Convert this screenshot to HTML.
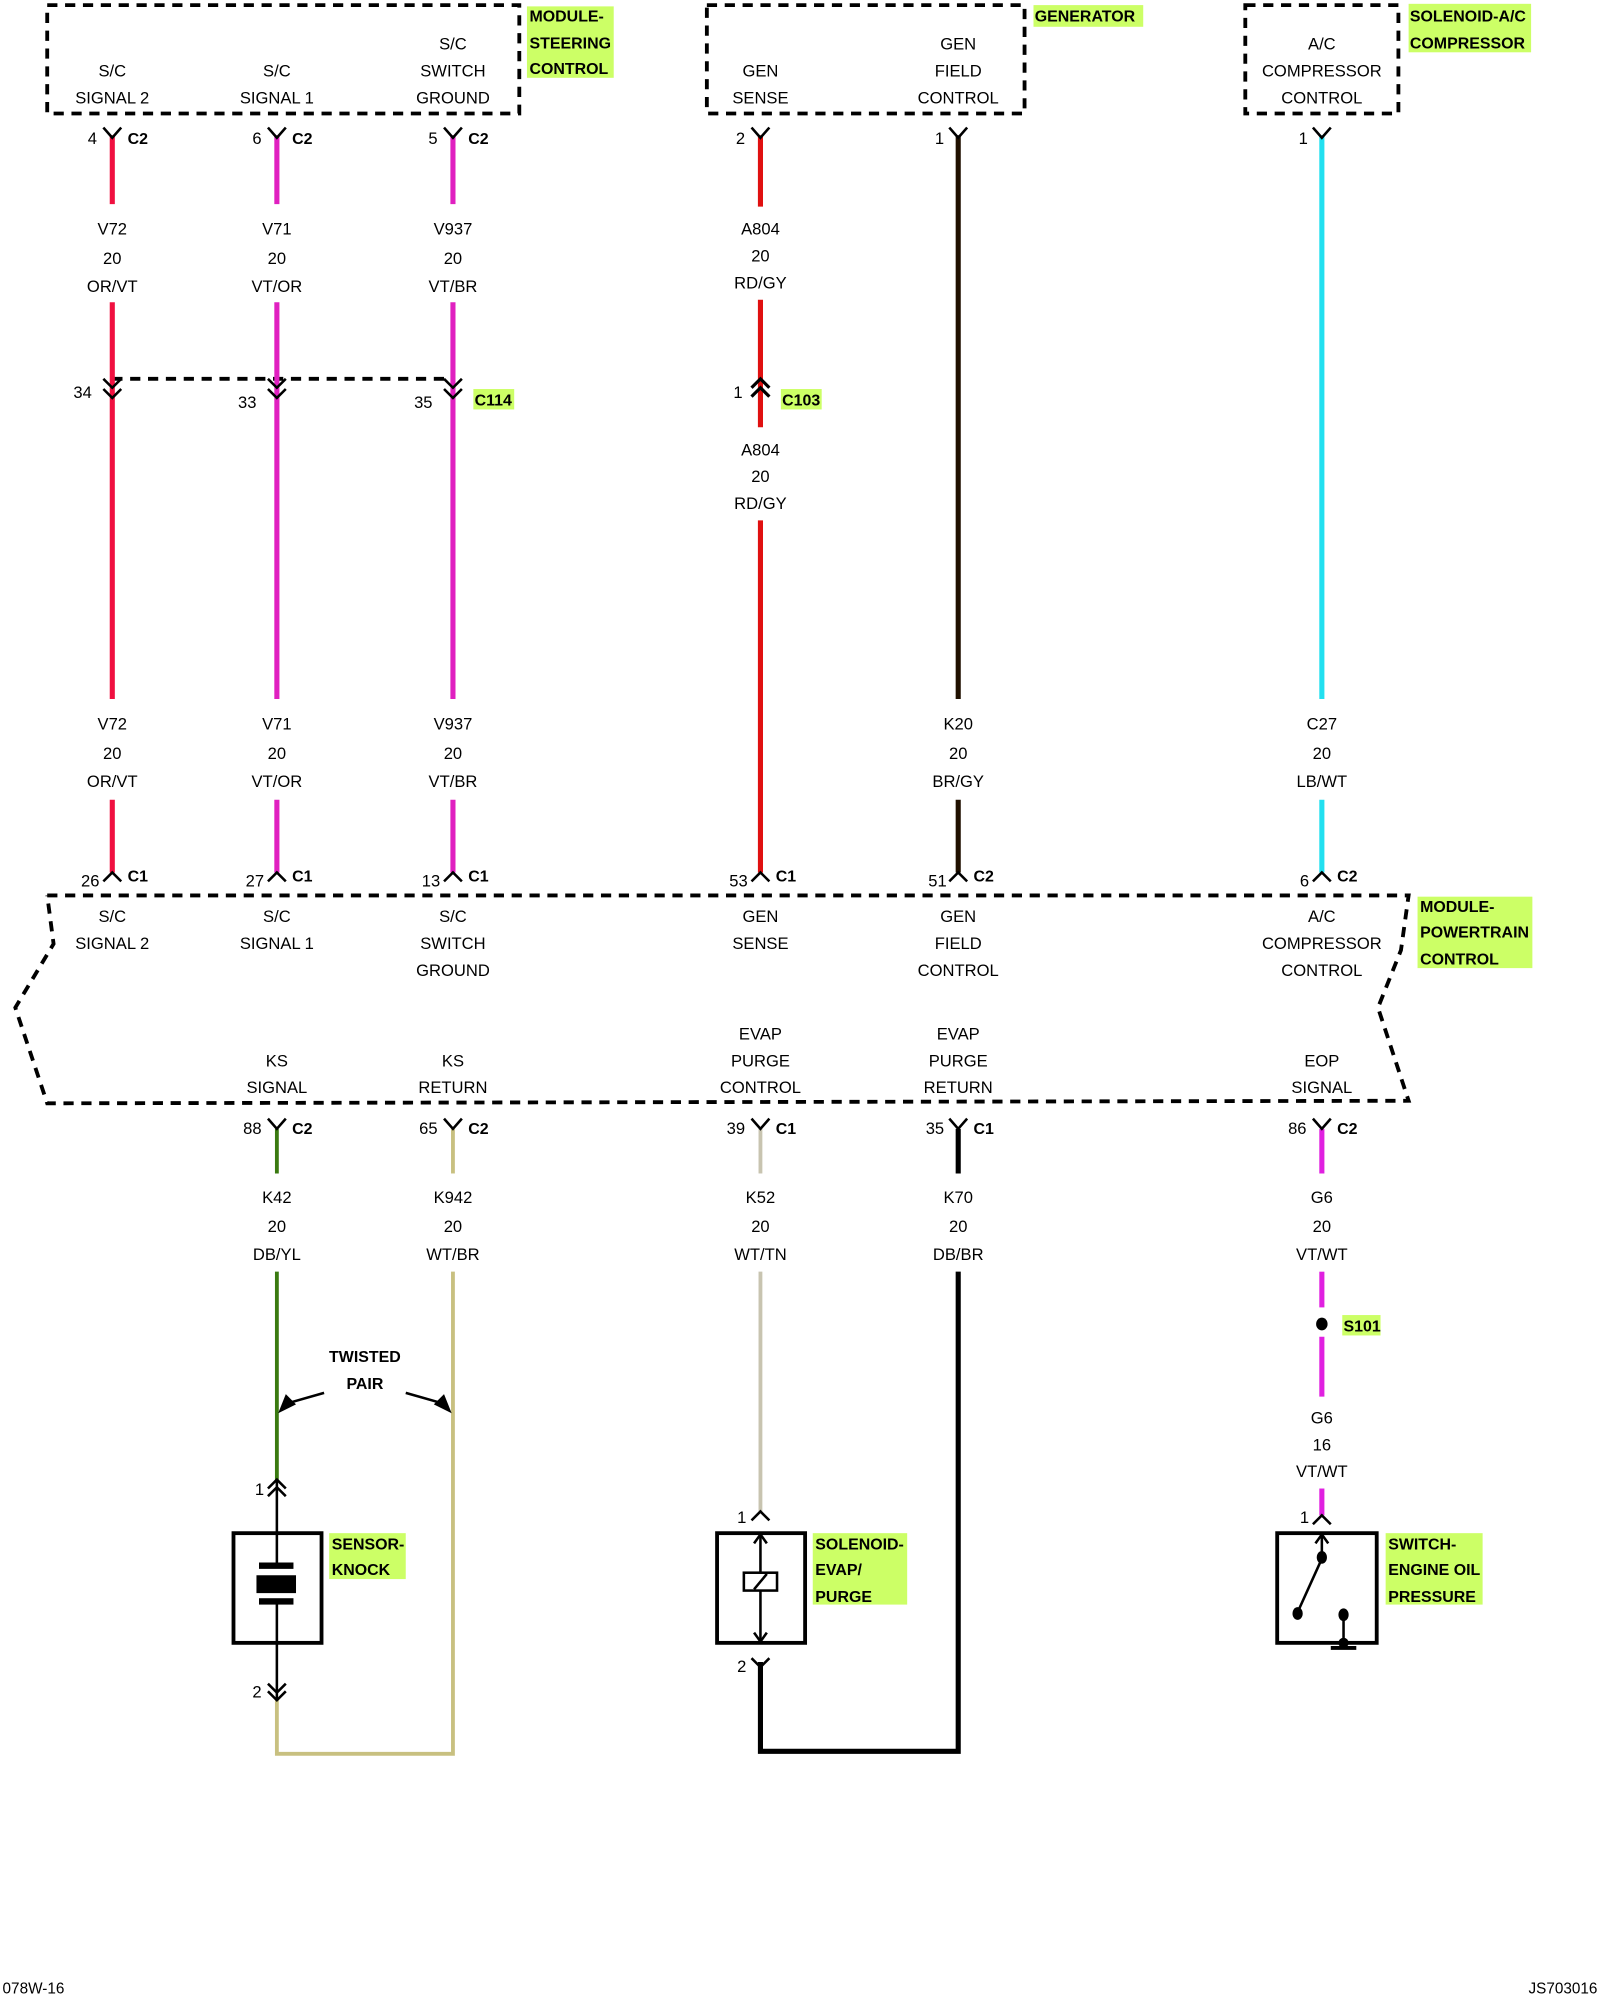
<!DOCTYPE html>
<html><head><meta charset="utf-8"><style>
html,body{margin:0;padding:0;background:#fff;}
svg{display:block;}
text{font-family:"Liberation Sans",Arial,sans-serif;font-size:13px;fill:#000;text-anchor:middle;}
.b{font-weight:bold;text-anchor:start;font-size:12.5px;}
.n{text-anchor:end;}
.hl{fill:#ccff66;}
</style></head><body>
<svg width="1600" height="2000" viewBox="0 0 1254 1568" preserveAspectRatio="none" xmlns="http://www.w3.org/2000/svg">
<g fill="none" stroke="#000" stroke-width="3" stroke-dasharray="8,6">
<rect x="37" y="4" width="370" height="85"/>
<rect x="554" y="4" width="249" height="85"/>
<rect x="976" y="4" width="120" height="85"/>
<polyline points="37,702 1104,702 1098,745 1080,790 1104,863 37,865 12,790 42,740 37,702"/>
<line x1="88" y1="297" x2="355" y2="297"/>
</g>
<!-- highlights -->
<rect class="hl" x="413" y="5" width="68" height="56"/>
<rect class="hl" x="810" y="4" width="86" height="17"/>
<rect class="hl" x="1104" y="3" width="96" height="38"/>
<rect class="hl" x="1111" y="703" width="90" height="56"/>
<rect class="hl" x="371" y="305" width="32" height="16"/>
<rect class="hl" x="612" y="305" width="32" height="16"/>
<rect class="hl" x="1052" y="1031" width="30" height="16"/>
<rect class="hl" x="258" y="1202" width="60" height="36"/>
<rect class="hl" x="637" y="1202" width="74" height="56"/>
<rect class="hl" x="1086" y="1202" width="76" height="56"/>
<g class="b">
<text class="b" x="415" y="17">MODULE-</text><text class="b" x="415" y="38">STEERING</text><text class="b" x="415" y="58">CONTROL</text>
<text class="b" x="811" y="17">GENERATOR</text>
<text class="b" x="1105" y="17">SOLENOID-A/C</text><text class="b" x="1105" y="38">COMPRESSOR</text>
<text class="b" x="1113" y="715">MODULE-</text><text class="b" x="1113" y="735">POWERTRAIN</text><text class="b" x="1113" y="756">CONTROL</text>
<text class="b" x="372" y="318">C114</text><text class="b" x="613" y="318">C103</text><text class="b" x="1053" y="1044">S101</text>
<text class="b" x="260" y="1215">SENSOR-</text><text class="b" x="260" y="1235">KNOCK</text>
<text class="b" x="639" y="1215">SOLENOID-</text><text class="b" x="639" y="1235">EVAP/</text><text class="b" x="639" y="1256">PURGE</text>
<text class="b" x="1088" y="1215">SWITCH-</text><text class="b" x="1088" y="1235">ENGINE OIL</text><text class="b" x="1088" y="1256">PRESSURE</text>
</g>
<!-- box texts -->
<text x="88" y="60">S/C</text><text x="88" y="81">SIGNAL 2</text>
<text x="217" y="60">S/C</text><text x="217" y="81">SIGNAL 1</text>
<text x="355" y="39">S/C</text><text x="355" y="60">SWITCH</text><text x="355" y="81">GROUND</text>
<text x="596" y="60">GEN</text><text x="596" y="81">SENSE</text>
<text x="751" y="39">GEN</text><text x="751" y="60">FIELD</text><text x="751" y="81">CONTROL</text>
<text x="1036" y="39">A/C</text><text x="1036" y="60">COMPRESSOR</text><text x="1036" y="81">CONTROL</text>
<!-- PCM texts -->
<text x="88" y="723">S/C</text><text x="88" y="744">SIGNAL 2</text>
<text x="217" y="723">S/C</text><text x="217" y="744">SIGNAL 1</text>
<text x="355" y="723">S/C</text><text x="355" y="744">SWITCH</text><text x="355" y="765">GROUND</text>
<text x="596" y="723">GEN</text><text x="596" y="744">SENSE</text>
<text x="751" y="723">GEN</text><text x="751" y="744">FIELD</text><text x="751" y="765">CONTROL</text>
<text x="1036" y="723">A/C</text><text x="1036" y="744">COMPRESSOR</text><text x="1036" y="765">CONTROL</text>
<text x="217" y="836">KS</text><text x="217" y="857">SIGNAL</text>
<text x="355" y="836">KS</text><text x="355" y="857">RETURN</text>
<text x="596" y="815">EVAP</text><text x="596" y="836">PURGE</text><text x="596" y="857">CONTROL</text>
<text x="751" y="815">EVAP</text><text x="751" y="836">PURGE</text><text x="751" y="857">RETURN</text>
<text x="1036" y="836">EOP</text><text x="1036" y="857">SIGNAL</text>
<!-- wires -->
<g stroke-width="4" fill="none">
<g stroke="#f01040"><line x1="88" y1="106" x2="88" y2="160"/><line x1="88" y1="237" x2="88" y2="548"/><line x1="88" y1="627" x2="88" y2="684"/></g>
<g stroke="#e020c0"><line x1="217" y1="106" x2="217" y2="160"/><line x1="217" y1="237" x2="217" y2="548"/><line x1="217" y1="627" x2="217" y2="684"/>
<line x1="355" y1="106" x2="355" y2="160"/><line x1="355" y1="237" x2="355" y2="548"/><line x1="355" y1="627" x2="355" y2="684"/></g>
<g stroke="#e01010"><line x1="596" y1="106" x2="596" y2="162"/><line x1="596" y1="235" x2="596" y2="335"/><line x1="596" y1="408" x2="596" y2="684"/></g>
<g stroke="#201000"><line x1="751" y1="106" x2="751" y2="548"/><line x1="751" y1="627" x2="751" y2="684"/></g>
<g stroke="#22e0f0"><line x1="1036" y1="106" x2="1036" y2="548"/><line x1="1036" y1="627" x2="1036" y2="684"/></g>
<g stroke="#3a7a10" stroke-width="3"><line x1="217" y1="885" x2="217" y2="920"/><line x1="217" y1="997" x2="217" y2="1160"/></g>
<g stroke="#c8c080" stroke-width="3"><line x1="355" y1="885" x2="355" y2="920"/><polyline points="355,997 355,1375 217,1375 217,1332"/></g>
<g stroke="#c8c4b0" stroke-width="3"><line x1="596" y1="885" x2="596" y2="920"/><line x1="596" y1="997" x2="596" y2="1186"/></g>
<g stroke="#000"><line x1="751" y1="885" x2="751" y2="920"/><polyline points="751,997 751,1373 596,1373 596,1303"/></g>
<g stroke="#e020e0"><line x1="1036" y1="885" x2="1036" y2="920"/><line x1="1036" y1="997" x2="1036" y2="1025"/><line x1="1036" y1="1048" x2="1036" y2="1095"/><line x1="1036" y1="1167" x2="1036" y2="1188"/></g>
</g>
<!-- connectors -->
<g stroke="#000" stroke-width="2" fill="none">
<path d="M81,100 L88,108 L95,100 M210,100 L217,108 L224,100 M348,100 L355,108 L362,100 M589,100 L596,108 L603,100 M744,100 L751,108 L758,100 M1029,100 L1036,108 L1043,100"/>
<path d="M81,297 L88,304 L95,297 M81,305 L88,312 L95,305 M210,297 L217,304 L224,297 M210,305 L217,312 L224,305 M348,297 L355,304 L362,297 M348,305 L355,312 L362,305"/>
<path d="M589,304 L596,297 L603,304 M589,311 L596,304 L603,311" stroke-width="2.5"/>
<path d="M81,691 L88,684 L95,691 M210,691 L217,684 L224,691 M348,691 L355,684 L362,691 M589,691 L596,684 L603,691 M744,691 L751,684 L758,691 M1029,691 L1036,684 L1043,691"/>
<path d="M210,877 L217,885 L224,877 M348,877 L355,885 L362,877 M589,877 L596,885 L603,877 M744,877 L751,885 L758,877 M1029,877 L1036,885 L1043,877"/>
<path d="M210,1167 L217,1160 L224,1167 M210,1173 L217,1166 L224,1173 M210,1320 L217,1327 L224,1320 M210,1326 L217,1333 L224,1326"/>
<line x1="217" y1="1160" x2="217" y2="1228"/><line x1="217" y1="1256" x2="217" y2="1332"/>
<path d="M589,1192 L596,1185 L603,1192 M589,1300 L596,1307 L603,1300"/>
<path d="M1029,1195 L1036,1188 L1043,1195"/>
<rect x="183" y="1202" width="69" height="86" stroke-width="3"/>
<rect x="562" y="1202" width="69" height="86" stroke-width="3"/>
<rect x="1001" y="1202" width="78" height="86" stroke-width="3"/>
<line x1="596" y1="1203" x2="596" y2="1287"/>
<path d="M591,1210 L596,1203 L601,1210 M591,1280 L596,1287 L601,1280"/>
<rect x="583" y="1233" width="26" height="14" fill="#fff"/>
<line x1="591" y1="1246" x2="601" y2="1234"/>
<line x1="1036" y1="1203" x2="1036" y2="1222"/>
<path d="M1031,1210 L1036,1203 L1041,1210"/>
<line x1="1036" y1="1222" x2="1017" y2="1264"/>
<line x1="1053" y1="1264" x2="1053" y2="1292"/>
<line x1="1043" y1="1292" x2="1063" y2="1292" stroke-width="3"/>
<line x1="254" y1="1092" x2="226" y2="1100"/>
<line x1="318" y1="1092" x2="346" y2="1100"/>
</g>
<g fill="#000">
<rect x="203" y="1225" width="27" height="5"/><rect x="201" y="1235" width="31" height="14"/><rect x="203" y="1253" width="27" height="5"/>
<ellipse cx="1036" cy="1221" rx="4" ry="5"/><ellipse cx="1017" cy="1265" rx="4" ry="5"/><ellipse cx="1053" cy="1266" rx="4" ry="5"/><ellipse cx="1053" cy="1288" rx="4" ry="4"/>
<ellipse cx="1036" cy="1038" rx="4.5" ry="5"/>
<polygon points="218,1108 224,1093 232,1101"/>
<polygon points="354,1108 340,1101 348,1093"/>
</g>
<g>
<text class="n" x="76" y="113">4</text><text class="b" x="100" y="113">C2</text>
<text class="n" x="205" y="113">6</text><text class="b" x="229" y="113">C2</text>
<text class="n" x="343" y="113">5</text><text class="b" x="367" y="113">C2</text>
<text class="n" x="584" y="113">2</text>
<text class="n" x="740" y="113">1</text>
<text class="n" x="1025" y="113">1</text>
<text class="n" x="72" y="312">34</text><text class="n" x="201" y="320">33</text><text class="n" x="339" y="320">35</text>
<text class="n" x="582" y="312">1</text>
<text class="n" x="78" y="695">26</text><text class="b" x="100" y="691">C1</text>
<text class="n" x="207" y="695">27</text><text class="b" x="229" y="691">C1</text>
<text class="n" x="345" y="695">13</text><text class="b" x="367" y="691">C1</text>
<text class="n" x="586" y="695">53</text><text class="b" x="608" y="691">C1</text>
<text class="n" x="742" y="695">51</text><text class="b" x="763" y="691">C2</text>
<text class="n" x="1026" y="695">6</text><text class="b" x="1048" y="691">C2</text>
<text class="n" x="205" y="889">88</text><text class="b" x="229" y="889">C2</text>
<text class="n" x="343" y="889">65</text><text class="b" x="367" y="889">C2</text>
<text class="n" x="584" y="889">39</text><text class="b" x="608" y="889">C1</text>
<text class="n" x="740" y="889">35</text><text class="b" x="763" y="889">C1</text>
<text class="n" x="1024" y="889">86</text><text class="b" x="1048" y="889">C2</text>
<text class="n" x="207" y="1172">1</text><text class="n" x="205" y="1331">2</text>
<text class="n" x="585" y="1194">1</text><text class="n" x="585" y="1311">2</text>
<text class="n" x="1026" y="1194">1</text>
</g>
<g>
<text x="88" y="184">V72</text><text x="88" y="207">20</text><text x="88" y="229">OR/VT</text>
<text x="217" y="184">V71</text><text x="217" y="207">20</text><text x="217" y="229">VT/OR</text>
<text x="355" y="184">V937</text><text x="355" y="207">20</text><text x="355" y="229">VT/BR</text>
<text x="596" y="184">A804</text><text x="596" y="205">20</text><text x="596" y="226">RD/GY</text>
<text x="596" y="357">A804</text><text x="596" y="378">20</text><text x="596" y="399">RD/GY</text>
<text x="88" y="572">V72</text><text x="88" y="595">20</text><text x="88" y="617">OR/VT</text>
<text x="217" y="572">V71</text><text x="217" y="595">20</text><text x="217" y="617">VT/OR</text>
<text x="355" y="572">V937</text><text x="355" y="595">20</text><text x="355" y="617">VT/BR</text>
<text x="751" y="572">K20</text><text x="751" y="595">20</text><text x="751" y="617">BR/GY</text>
<text x="1036" y="572">C27</text><text x="1036" y="595">20</text><text x="1036" y="617">LB/WT</text>
<text x="217" y="943">K42</text><text x="217" y="966">20</text><text x="217" y="988">DB/YL</text>
<text x="355" y="943">K942</text><text x="355" y="966">20</text><text x="355" y="988">WT/BR</text>
<text x="596" y="943">K52</text><text x="596" y="966">20</text><text x="596" y="988">WT/TN</text>
<text x="751" y="943">K70</text><text x="751" y="966">20</text><text x="751" y="988">DB/BR</text>
<text x="1036" y="943">G6</text><text x="1036" y="966">20</text><text x="1036" y="988">VT/WT</text>
<text x="1036" y="1116">G6</text><text x="1036" y="1137">16</text><text x="1036" y="1158">VT/WT</text>
<text x="286" y="1068" style="font-weight:bold;font-size:12.5px">TWISTED</text><text x="286" y="1089" style="font-weight:bold;font-size:12.5px">PAIR</text>
<text x="2" y="1563" style="text-anchor:start;font-size:12px">078W-16</text>
<text x="1252" y="1563" style="text-anchor:end;font-size:12px">JS703016</text>
</g>
</svg>
</body></html>
